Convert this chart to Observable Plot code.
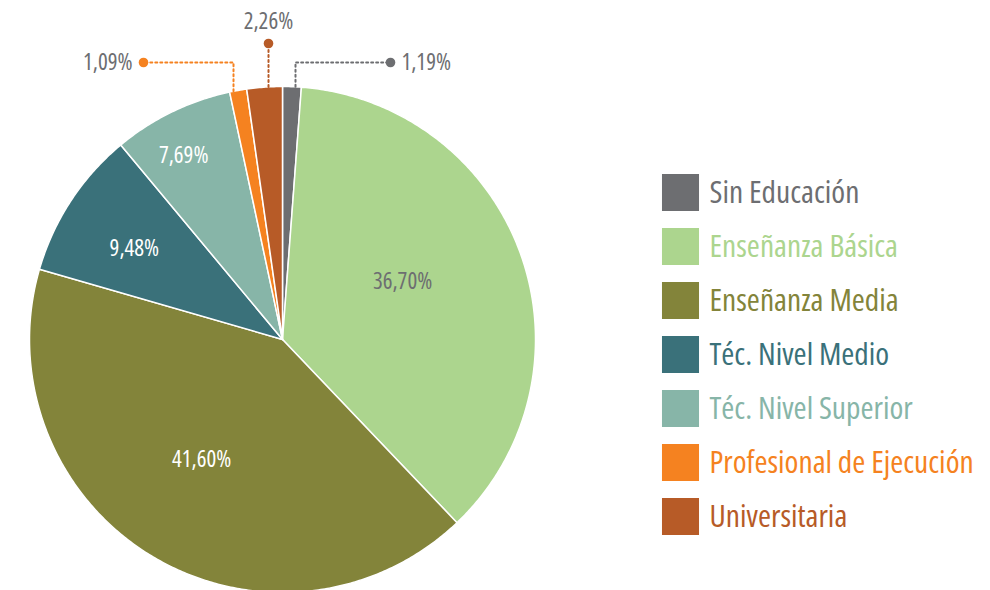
<!DOCTYPE html>
<html>
<head>
<meta charset="utf-8">
<script src="https://cdn.jsdelivr.net/npm/d3@7"></script>
<script src="https://cdn.jsdelivr.net/npm/@observablehq/plot@0.6"></script>
<style>
  html, body { margin: 0; padding: 0; background: #fff; }
  #chart { width: 990px; height: 590px; }
  #chart svg text { font-stretch: 75%; font-weight: 370; }
</style>
</head>
<body>
<div id="chart"></div>
<script>
// ---- data ----
const categories = ["Sin Educación", "Enseñanza Básica", "Enseñanza Media", "Téc. Nivel Medio", "Téc. Nivel Superior", "Profesional de Ejecución", "Universitaria"];
const shares = [1.19, 36.70, 41.60, 9.48, 7.69, 1.09, 2.26];
const shareLabels = ["1,19%", "36,70%", "41,60%", "9,48%", "7,69%", "1,09%", "2,26%"];
const colors = ["#6d6e71", "#acd58e", "#83843a", "#3a717a", "#87b5a8", "#f58220", "#b75b27"];

// ---- layout constants (pixels) ----
const W = 990, H = 590, CX = 282, CY = 339, R = 253;
const px = v => (v - CX) / R;          // pixel x -> data x
const py = v => (CY - v) / R;          // pixel y -> data y
const font = "'Open Sans', sans-serif";
const gray = "#6d6e71";

// slices
const total = d3.sum(shares);
let acc = 0;
const slices = categories.map((name, i) => {
  const a0 = acc / total * 2 * Math.PI;
  acc += shares[i];
  const a1 = acc / total * 2 * Math.PI;
  const pts = [{x: 0, y: 0}];
  const n = Math.max(2, Math.ceil((a1 - a0) / (Math.PI / 360)));
  for (let k = 0; k <= n; k++) {
    const a = a0 + (a1 - a0) * k / n;
    pts.push({x: Math.sin(a), y: Math.cos(a)});
  }
  pts.push({x: 0, y: 0});
  return {name, i, a0, a1, mid: (a0 + a1) / 2, pts, color: colors[i], label: shareLabels[i]};
});

// inside labels: placement as (fraction of radius, fraction through the slice)
const insidePlace = {1: [0.527, 0.454], 2: [0.572, 0.518], 3: [0.686, 0.447], 4: [0.825, 0.415]};
const inside = slices.filter(s => insidePlace[s.i] !== undefined).map(s => {
  const [rf, t] = insidePlace[s.i];
  const a = s.a0 + (s.a1 - s.a0) * t;
  return {x: Math.sin(a) * rf, y: Math.cos(a) * rf, label: s.label, fill: s.i === 1 ? gray : "white"};
});

// callouts for the small slices
const elbowY = py(62);
const callouts = [
  {s: slices[0], path: s => [null, {x: px(295), y: elbowY}, {x: px(390), y: elbowY}], anchor: "start", dx: 11, dy: 0},
  {s: slices[5], path: s => [null, {x: px(233), y: elbowY}, {x: px(143), y: elbowY}], anchor: "end", dx: -11, dy: 0},
  {s: slices[6], path: s => [null, {x: px(268), y: py(43)}], anchor: "middle", dx: 0, dy: -22}
];
// leader verticals start on the pie edge directly below the elbow
for (const c of callouts) {
  const orig = c.path;
  c.path = s => {
    const p = orig(s);
    const ex = p[1].x;
    p[0] = {x: ex, y: Math.sqrt(Math.max(0, 1 - ex * ex))};
    return p;
  };
}

// legend rows
const legend = categories.map((name, i) => ({name, color: colors[i], x: px(680), tx: px(709), y: py(192 + 54 * i)}));

const marks = [];
for (const s of slices) {
  marks.push(Plot.line(s.pts, {x: "x", y: "y", fill: s.color, stroke: "white", strokeWidth: 1.5, curve: "linear"}));
}
marks.push(Plot.text(inside, {x: "x", y: "y", text: "label", fill: d => d.fill, fontSize: 23, fontFamily: font, textAnchor: "middle", lineAnchor: "middle"}));
for (const c of callouts) {
  const p = c.path(c.s);
  marks.push(Plot.line(p, {x: "x", y: "y", stroke: c.s.color, strokeWidth: 2, strokeDasharray: "2,3", curve: "linear"}));
  const end = p[p.length - 1];
  marks.push(Plot.dot([end], {x: "x", y: "y", r: 4.8, fill: c.s.color}));
  marks.push(Plot.text([end], {x: "x", y: "y", text: () => c.s.label, fill: gray, fontSize: 23, fontFamily: font, textAnchor: c.anchor, lineAnchor: "middle", dx: c.dx, dy: c.dy}));
}
marks.push(Plot.dot(legend, {x: "x", y: "y", symbol: "square", r: 20.9, fill: "color", stroke: null}));
marks.push(Plot.text(legend, {x: "tx", y: "y", text: "name", fill: "color", fontSize: 31.5, fontFamily: font, textAnchor: "start", lineAnchor: "middle"}));

const chart = Plot.plot({
  width: W,
  height: H,
  margin: 0,
  x: {domain: [-1, 1], range: [CX - R, CX + R], axis: null},
  y: {domain: [-1, 1], range: [CY + R, CY - R], axis: null},
  color: {type: "identity"},
  style: {fontFamily: font, background: "white", overflow: "visible"},
  marks
});
document.getElementById("chart").appendChild(chart);
</script>
</body>
</html>
